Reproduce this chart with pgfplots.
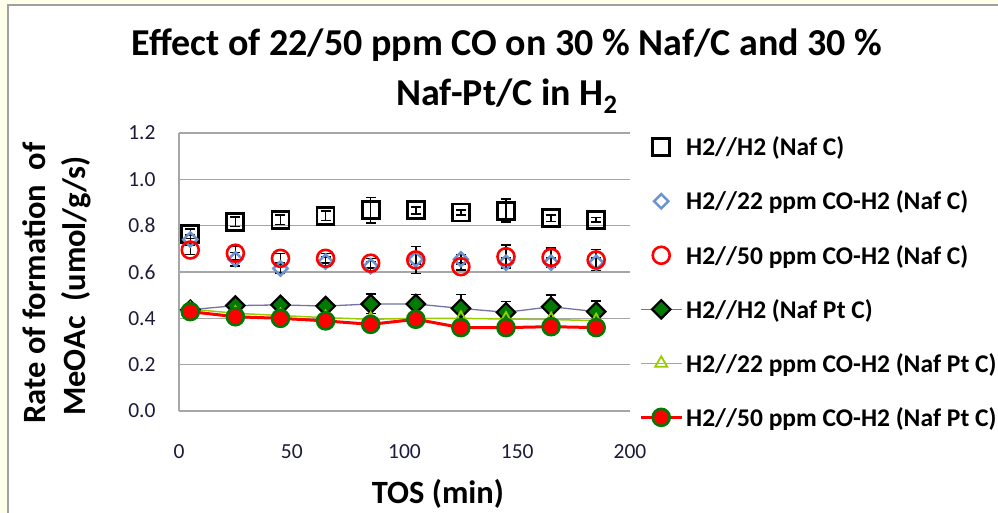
\documentclass[border=0pt]{standalone}
\usepackage{fontspec}
\setmainfont{Carlito}
\usepackage{pgfplots}
\pgfplotsset{compat=1.18}
\usepackage{pgfplotstable}
\definecolor{bgyellow}{HTML}{FFFFEA}
\definecolor{bordergray}{HTML}{A0A0A0}
\definecolor{gridgray}{HTML}{A6A6A6}
\definecolor{diablue}{HTML}{6A93CF}
\definecolor{xlred}{HTML}{FF0000}
\definecolor{xlgreen}{HTML}{007A00}
\definecolor{slate}{HTML}{7373A6}
\definecolor{ygreen}{HTML}{99CC00}
\definecolor{ticktext}{HTML}{1C1C3A}

\pgfplotstableread{
x y e
5   0.765 0.02
25  0.817 0.02
45  0.825 0.02
65  0.843 0.02
85  0.866 0.055
105 0.866 0.015
125 0.857 0.010
145 0.865 0.050
165 0.832 0.015
185 0.825 0.010
}\sA
\pgfplotstableread{
x y e
5   0.740 0.02
25  0.655 0.03
45  0.615 0.02
65  0.645 0.02
85  0.625 0.02
105 0.655 0.02
125 0.655 0.02
145 0.640 0.02
165 0.640 0.02
185 0.640 0.02
}\sB
\pgfplotstableread{
x y e
5   0.695 0.02
25  0.681 0.03
45  0.659 0.02
65  0.659 0.02
85  0.638 0.02
105 0.652 0.058
125 0.623 0.015
145 0.666 0.050
165 0.663 0.040
185 0.652 0.045
}\sC
\pgfplotstableread{
x y e
5   0.437 0.010
25  0.455 0.020
45  0.458 0.020
65  0.453 0.020
85  0.462 0.042
105 0.462 0.040
125 0.443 0.060
145 0.426 0.047
165 0.450 0.050
185 0.429 0.045
}\sD
\pgfplotstableread{
x y
5   0.440
25  0.422
45  0.412
65  0.403
85  0.396
105 0.400
125 0.400
145 0.397
165 0.395
185 0.390
}\sE
\pgfplotstableread{
x y
5   0.429
25  0.407
45  0.400
65  0.389
85  0.374
105 0.396
125 0.360
145 0.360
165 0.364
185 0.360
}\sF

\begin{document}
\begin{tikzpicture}
\useasboundingbox (0bp,0bp) rectangle (998bp,-513bp);
\fill[bgyellow] (0bp,0bp) rectangle (998bp,-513bp);
\filldraw[fill=white, draw=bordergray, line width=1.2bp] (8bp,-5bp) rectangle (1010bp,-525bp);

\node[anchor=base, font=\fontsize{38bp}{44bp}\selectfont\bfseries] at (507bp,-55bp) {Effect of 22/50 ppm CO on 30 \% Naf/C and 30 \%};
\node[anchor=base, font=\fontsize{38bp}{44bp}\selectfont\bfseries] at (507bp,-105bp) {Naf-Pt/C in H\textsubscript{2}};

\node[anchor=base, rotate=90, font=\fontsize{32.5bp}{38bp}\selectfont\bfseries] at (45bp,-283bp) {Rate of formation\ \ of};
\node[anchor=base, rotate=90, font=\fontsize{32.5bp}{38bp}\selectfont\bfseries] at (85bp,-286bp) {MeOAc\ \ (umol/g/s)};
\node[anchor=base, font=\fontsize{32.5bp}{38bp}\selectfont\bfseries] at (438bp,-503bp) {TOS (min)};

\begin{axis}[
  at={(179bp,-411bp)}, anchor=south west,
  width=451bp, height=278bp, scale only axis,
  xmin=0, xmax=200, ymin=0, ymax=1.2,
  xtick={0,50,100,150,200},
  ytick={0,0.2,0.4,0.6,0.8,1.0,1.2},
  axis x line*=bottom, axis y line*=left,
  axis line style={draw=gridgray, line width=1.2bp},
  major tick length=0pt,
  ymajorgrids, grid style={draw=gridgray, line width=1.2bp},
  /pgf/number format/assume math mode=true,
  yticklabel={\pgfmathprintnumber[fixed,fixed zerofill,precision=1]{\tick}},
  xticklabel style={font=\fontsize{21.5bp}{25bp}\selectfont, text=ticktext, yshift=-30bp},
  yticklabel style={font=\fontsize{21.5bp}{25bp}\selectfont, text=ticktext, xshift=-20bp},
  legend cell align=left,
  legend style={at={(axis description cs:1.02,0.997)}, anchor=north west, draw=none, fill=none,
    font=\fontsize{25.5bp}{30bp}\selectfont\bfseries, inner sep=0pt, row sep=27.6bp,
    nodes={inner sep=3bp}},
  legend image code/.code={\draw[mark repeat=2,mark phase=2,#1] plot coordinates {(0bp,0bp) (20.5bp,0bp) (41bp,0bp)};},
  clip=false,
]
\addplot[only marks, mark=square, mark size=8.5bp, mark options={draw=black, line width=2.8bp, fill=none},
  error bars/.cd, y dir=both, y explicit, error bar style={black, line width=1.5bp},
  error mark options={rotate=90, mark size=5bp, black, line width=1.5bp}]
  table[x=x, y=y, y error=e] {\sA};
\addlegendentry{H2//H2 (Naf C)}
\addplot[only marks, mark=square, mark size=5bp, mark options={rotate=45, draw=diablue, line width=2.5bp, fill=none},
  error bars/.cd, y dir=both, y explicit, error bar style={black, line width=1.5bp},
  error mark options={rotate=90, mark size=5bp, black, line width=1.5bp}]
  table[x=x, y=y, y error=e] {\sB};
\addlegendentry{H2//22 ppm CO-H2 (Naf C)}
\addplot[only marks, mark=o, mark size=8.5bp, mark options={draw=xlred, line width=2.6bp, fill=none},
  error bars/.cd, y dir=both, y explicit, error bar style={black, line width=1.5bp},
  error mark options={rotate=90, mark size=5bp, black, line width=1.5bp}]
  table[x=x, y=y, y error=e] {\sC};
\addlegendentry{H2//50 ppm CO-H2 (Naf C)}
\addplot[slate, line width=1.3bp, mark=square*, mark size=6.5bp, mark options={rotate=45, draw=black, fill=xlgreen, line width=2.2bp},
  error bars/.cd, y dir=both, y explicit, error bar style={black, line width=1.5bp},
  error mark options={rotate=90, mark size=5bp, black, line width=1.5bp}]
  table[x=x, y=y, y error=e] {\sD};
\addlegendentry{H2//H2 (Naf Pt C)}
\addplot[ygreen, line width=1.5bp, mark=triangle, mark size=7bp, mark options={draw=ygreen, line width=1.8bp, fill=none}]
  table[x=x, y=y] {\sE};
\addlegendentry{H2//22 ppm CO-H2 (Naf Pt C)}
\addplot[xlred, line width=3bp, mark=*, mark size=8.5bp, mark options={draw=xlgreen, fill=xlred, line width=2.6bp}]
  table[x=x, y=y] {\sF};
\addlegendentry{H2//50 ppm CO-H2 (Naf Pt C)}
\end{axis}
\end{tikzpicture}
\end{document}
